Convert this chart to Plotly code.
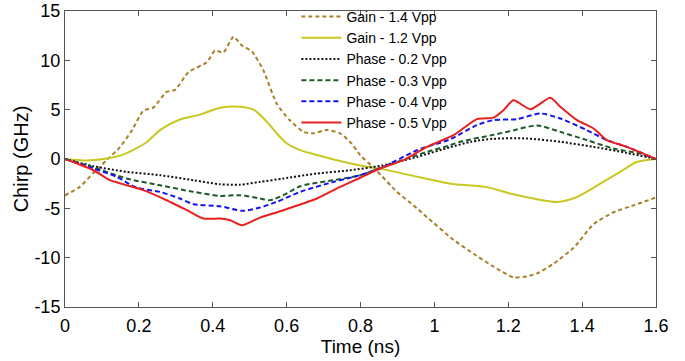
import plotly.graph_objects as go

# ---- data ----
t_g14 = [0, 0.041, 0.077, 0.113, 0.149, 0.181, 0.212, 0.239, 0.275, 0.298, 0.334, 0.384, 0.406,
         0.429, 0.456, 0.479, 0.506, 0.537, 0.573, 0.609, 0.645, 0.673, 0.709, 0.745, 0.775, 0.799,
         0.844, 0.898, 0.953, 0.98, 1.052, 1.106, 1.16, 1.214, 1.25, 1.278, 1.323, 1.377, 1.431,
         1.485, 1.539, 1.6]
v_g14 = [-3.7, -2.8, -1.4, -0.1, 1.2, 2.9, 4.9, 5.2, 6.8, 7.0, 8.8, 9.8, 11.0,
         10.8, 12.4, 11.5, 10.9, 9.0, 5.6, 3.9, 2.75, 2.6, 2.95, 2.6, 1.6, 0.4,
         -1.2, -3.3, -5.0, -5.9, -8.2, -9.6, -10.9, -12.0, -11.9, -11.6, -10.6, -9.0, -6.6,
         -5.4, -4.7, -3.9]

t_g12 = [0, 0.059, 0.104, 0.14, 0.167, 0.194, 0.221, 0.26, 0.311, 0.366, 0.42, 0.474, 0.51,
         0.546, 0.573, 0.6, 0.637, 0.682, 0.727, 0.799, 0.862, 0.953, 1.043, 1.142, 1.205,
         1.268, 1.332, 1.386, 1.449, 1.503, 1.548, 1.6]
v_g12 = [0, -0.15, 0.0, 0.25, 0.6, 1.1, 1.7, 3.0, 4.0, 4.5, 5.2, 5.3, 5.0,
         3.8, 2.6, 1.6, 0.9, 0.4, -0.05, -0.65, -1.05, -1.8, -2.5, -2.85, -3.5,
         -4.0, -4.35, -3.85, -2.5, -1.3, -0.3, 0]

t_p02 = [0, 0.077, 0.167, 0.257, 0.348, 0.42, 0.474, 0.528, 0.591, 0.682, 0.772, 0.862, 0.953,
         1.043, 1.1, 1.16, 1.25, 1.341, 1.431, 1.521, 1.6]
v_p02 = [0, -0.73, -1.3, -1.64, -2.15, -2.56, -2.6, -2.32, -1.98, -1.47, -1.14, -0.63, 0.21,
         1.2, 1.75, 2.05, 2.08, 1.74, 1.23, 0.62, 0]

t_p03 = [0, 0.077, 0.167, 0.257, 0.348, 0.42, 0.474, 0.528, 0.555, 0.591, 0.637, 0.682, 0.727,
         0.799, 0.862, 0.953, 0.98, 1.043, 1.07, 1.16, 1.214, 1.278, 1.341, 1.413, 1.485, 1.557, 1.6]
v_p03 = [0, -0.85, -1.98, -2.66, -3.33, -3.74, -3.67, -4.0, -4.18, -3.67, -2.76, -2.4, -2.15,
         -1.64, -0.8, 0.39, 0.72, 1.4, 1.75, 2.45, 2.9, 3.4, 2.75, 1.91, 1.06, 0.55, 0]

t_p04 = [0, 0.077, 0.14, 0.194, 0.257, 0.311, 0.348, 0.42, 0.48, 0.528, 0.573, 0.637, 0.727,
         0.799, 0.862, 0.953, 1.043, 1.115, 1.16, 1.223, 1.287, 1.341, 1.413, 1.467, 1.521, 1.6]
v_p04 = [0, -0.96, -1.81, -2.9, -3.33, -4.0, -4.58, -4.79, -5.25, -4.92, -4.35, -3.33, -2.32,
         -1.64, -0.8, 0.89, 2.0, 3.43, 3.94, 4.04, 4.61, 4.1, 2.92, 1.91, 1.23, 0]

t_p05 = [0, 0.077, 0.122, 0.167, 0.212, 0.275, 0.33, 0.375, 0.42, 0.447, 0.479, 0.528, 0.591,
         0.682, 0.745, 0.799, 0.853, 0.916, 0.98, 1.052, 1.115, 1.16, 1.187, 1.214, 1.26, 1.314,
         1.341, 1.386, 1.431, 1.467, 1.521, 1.6]
v_p05 = [0, -1.14, -2.15, -2.66, -3.16, -4.18, -5.19, -6.04, -6.04, -6.2, -6.71, -5.94, -5.19,
         -4.0, -2.83, -1.9, -0.96, -0.12, 1.23, 2.41, 4.04, 4.2, 4.95, 5.96, 5.05, 6.2,
         5.29, 3.94, 3.09, 1.91, 1.23, 0]

series_names = ["Gain - 1.4 Vpp", "Gain - 1.2 Vpp", "Phase - 0.2 Vpp",
                "Phase - 0.3 Vpp", "Phase - 0.4 Vpp", "Phase - 0.5 Vpp"]

x_tickvals = [0, 0.2, 0.4, 0.6, 0.8, 1.0, 1.2, 1.4, 1.6]
x_ticktext = ["0", "0.2", "0.4", "0.6", "0.8", "1", "1.2", "1.4", "1.6"]
y_tickvals = [-15, -10, -5, 0, 5, 10, 15]
y_ticktext = ["-15", "-10", "-5", "0", "5", "10", "15"]

# ---- styles ----
styles = [
    dict(color="#A8802A", width=2, dash="4px,3px", shape="spline", smoothing=0.5),
    dict(color="#C8C822", width=2, dash="solid", shape="spline", smoothing=0.7),
    dict(color="#111111", width=2, dash="2px,2px", shape="spline", smoothing=0.7),
    dict(color="#1E5A28", width=2, dash="5px,3px", shape="spline", smoothing=0.7),
    dict(color="#1414F0", width=2, dash="5px,3px", shape="spline", smoothing=0.7),
    dict(color="#E82020", width=2, dash="solid", shape="spline", smoothing=0.6),
]

data = [(t_g14, v_g14), (t_g12, v_g12), (t_p02, v_p02),
        (t_p03, v_p03), (t_p04, v_p04), (t_p05, v_p05)]

fig = go.Figure()
for (tx, vy), name, st in zip(data, series_names, styles):
    fig.add_trace(go.Scatter(x=tx, y=vy, mode="lines", name=name, line=st))

FONT = "Liberation Sans, Arial, sans-serif"
axis_common = dict(showgrid=False, zeroline=False, showline=True, linecolor="#555555",
                   linewidth=1, mirror="ticks", ticks="inside", ticklen=5, automargin=False,
                   tickcolor="#555555", tickfont=dict(family=FONT, size=18, color="black"))

fig.update_layout(
    width=685, height=361,
    margin=dict(l=65, r=29, t=11, b=54, autoexpand=False),
    paper_bgcolor="white", plot_bgcolor="white",
    font=dict(family=FONT, color="black"),
    xaxis=dict(range=[0, 1.6], tickvals=x_tickvals, ticktext=x_ticktext,
               ticklabelstandoff=2,
               title=dict(text="Time (ns)", font=dict(family=FONT, size=19), standoff=0),
               **axis_common),
    yaxis=dict(range=[-15, 15], tickvals=y_tickvals, ticktext=y_ticktext,
               title=dict(text="Chirp (GHz)", font=dict(family=FONT, size=20), standoff=0),
               **axis_common),
    legend=dict(x=0.3915, y=1.034, xanchor="left", yanchor="top",
                bgcolor="rgba(0,0,0,0)", borderwidth=0,
                font=dict(family=FONT, size=14, color="black"),
                itemwidth=40, tracegroupgap=0),
    showlegend=True,
)

# remove the browser's default 8px body margin so the figure sits at the page origin
fig.write_html("out.html", config={"displayModeBar": False},
               post_script="document.body.style.margin='0';")
